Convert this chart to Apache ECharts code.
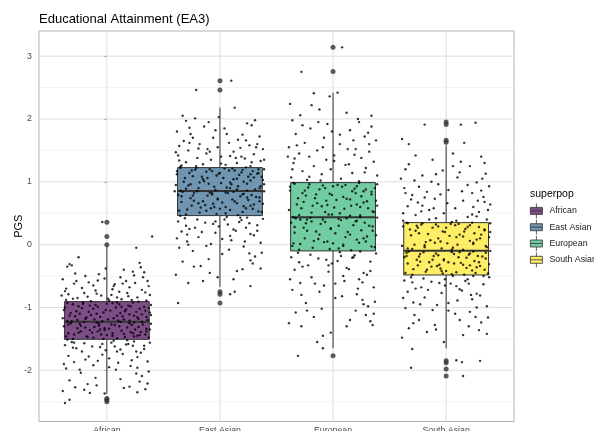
<!DOCTYPE html>
<html><head><meta charset="utf-8">
<script src="https://cdn.jsdelivr.net/npm/echarts@6/dist/echarts.min.js"></script>
<style>html,body{margin:0;padding:0;background:#fff}#c{width:594px;height:431px}</style>
</head><body><div id="c"></div>
<script>
const categories = ['African', 'East Asian', 'European', 'South Asian'];
const yTicks = [-2, -1, 0, 1, 2, 3];
const yMinor = [-2.5, -1.5, -0.5, 0.5, 1.5, 2.5];
// box statistics per group
const whiskerLow = [-2.377, -0.67, -1.65, -1.65];
const q1 = [-1.507, 0.462, -0.10, -0.483];
const median = [-1.226, 0.855, 0.436, -0.096];
const q3 = [-0.907, 1.226, 0.987, 0.35];
const whiskerHigh = [-0.04, 2.18, 2.42, 1.58];
const outliersAfrican = [0.357, 0.13, 0.0, -2.45, -2.50, -2.47];
const outliersEastAsian = [2.61, 2.46, -0.75, -0.79, -0.93];
const outliersEuropean = [3.14, 2.755, -1.77];
const outliersSouthAsian = [1.95, 1.91, 1.66, 1.63, -1.85, -1.88, -1.98, -2.09];
// jittered points: [horizontal jitter, value]
const pointsAfrican = [[-.33,-0.31],[-.35,-0.35],[-.31,-0.33],[.12,-0.52],[-.28,-0.46],[.36,-0.58],[.25,-0.61],[-.12,-0.65],[.05,-0.71],[-.37,-0.74],[.18,-0.77],[-.22,-0.69],[.31,-0.72],[-.05,-0.81],[.09,-0.84],[-.30,-0.86],[.38,-0.80],[.22,-0.88],[-.17,-0.83],[.02,-0.89],[-.39,-0.55],[.33,-0.44],[-.08,-0.57],[.15,-0.40],[-.25,-0.20],[.29,-0.29],[.40,0.13],[-.04,0.36],[.11,-0.75],[-.14,-0.90],[.27,-0.84],[-.34,-0.79],[.07,-0.63],[-.20,-0.77],[.35,-0.89],[-.02,-0.54],[.20,-0.68],[-.29,-0.62],[.13,-0.87],[-.10,-0.73],[.37,-0.66],[-.36,-0.88],[.24,-0.49],[-.16,-0.60],[.04,-0.80],[-.26,-0.85],[.30,-0.36],[-.07,-0.47],[.17,-0.58],[.26,-0.05],
[-.30,-0.95],[.21,-0.98],[-.12,-1.02],[.34,-1.05],[.05,-0.93],[-.24,-1.10],[.14,-1.14],[-.37,-1.00],[.28,-1.18],[-.03,-1.08],[.39,-0.96],[-.18,-1.16],[.10,-1.21],[-.33,-1.13],[.23,-0.92],[-.08,-0.99],[.31,-1.11],[-.27,-1.06],[.01,-1.19],[.17,-1.03],[-.21,-0.94],[.36,-1.20],[-.14,-1.12],[.08,-1.00],[-.39,-1.17],[.26,-1.07],[-.06,-1.15],[.19,-0.97],[-.31,-1.22],[.12,-1.09],[-.22,-1.01],[.33,-0.99],[-.01,-1.04],[.24,-1.13],[-.35,-0.93],[.06,-1.17],[-.16,-1.07],[.29,-1.02],[-.10,-0.96],[.15,-1.19],[-.28,-1.14],[.38,-1.08],[-.04,-1.22],[.20,-1.11],[-.19,-1.18],[.03,-1.05],[-.25,-0.98],[.35,-1.15],[-.09,-1.10],[.11,-0.95],
[-.32,-1.25],[.22,-1.28],[-.11,-1.31],[.35,-1.34],[.04,-1.27],[-.23,-1.38],[.15,-1.42],[-.38,-1.30],[.27,-1.45],[-.02,-1.36],[.39,-1.26],[-.17,-1.47],[.09,-1.49],[-.34,-1.41],[.24,-1.24],[-.07,-1.29],[.30,-1.39],[-.26,-1.33],[.00,-1.44],[.18,-1.32],[-.20,-1.23],[.37,-1.48],[-.13,-1.40],[.07,-1.28],[-.36,-1.46],[.25,-1.35],[-.05,-1.43],[.20,-1.25],[-.30,-1.50],[.13,-1.37],[-.23,-1.29],[.32,-1.27],[-.02,-1.33],[.23,-1.41],[-.35,-1.22],[.05,-1.45],[-.15,-1.36],[.28,-1.31],[-.09,-1.24],[.16,-1.47],[-.29,-1.43],[.38,-1.35],[-.03,-1.50],[.21,-1.39],[-.18,-1.46],[.02,-1.34],[-.24,-1.26],[.34,-1.43],[-.08,-1.38],[.12,-1.23],
[-.31,-1.55],[.19,-1.58],[-.13,-1.62],[.33,-1.66],[.06,-1.53],[-.22,-1.70],[.14,-1.74],[-.37,-1.60],[.27,-1.79],[-.01,-1.68],[.38,-1.56],[-.19,-1.83],[.10,-1.88],[-.34,-1.77],[.24,-1.54],[-.06,-1.63],[.30,-1.72],[-.27,-1.65],[.02,-1.81],[.17,-1.59],[-.20,-1.57],[.36,-1.86],[-.12,-1.92],[.08,-1.99],[-.36,-1.97],[.26,-2.05],[-.04,-1.75],[.21,-1.93],[-.29,-1.87],[.12,-1.67],[-.24,-1.99],[.31,-2.09],[-.10,-2.12],[.23,-1.61],[-.33,-2.16],[.04,-1.56],[-.17,-2.22],[.29,-2.18],[-.08,-1.85],[.15,-2.28],[-.39,-2.33],[.37,-2.02],[-.02,-2.37],[.20,-2.26],[-.37,-2.52],[-.33,-2.47],[.34,-2.30],[-.15,-2.36],[.27,-2.35],[-.20,-2.31],
[-.27,-0.58],[.06,-0.66],[.32,-0.52],[-.09,-0.78],[.19,-0.82],[-.36,-0.70],[.01,-0.86],[.28,-0.91],[-.21,-0.92],[.14,-0.62],[-.38,-1.04],[.27,-1.16],[-.15,-0.97],[.09,-1.13],[.37,-1.01],[-.26,-1.20],[.00,-0.94],[.16,-1.06],[-.32,-1.09],[.31,-1.23],[-.07,-1.26],[.24,-1.46],[-.19,-1.32],[.05,-1.41],[.35,-1.38],[-.34,-1.27],[.11,-1.30],[-.12,-1.48],[.29,-1.44],[-.25,-1.40],[.18,-1.52],[-.04,-1.58],[.33,-1.61],[-.30,-1.64],[.09,-1.70],[-.16,-1.78],[.22,-1.84],[-.38,-1.90],[.02,-1.95],[.27,-1.96],[-.23,-2.04],[.12,-2.14],[-.09,-2.24],[.36,-2.21],[-.28,-2.27],[.07,-1.62],[-.35,-1.51],[.39,-1.12],[-.11,-1.19],[.13,-0.99],[-.40,-0.81],[.34,-0.76],[-.19,-0.50],[.23,-0.43],[-.01,-0.38],[.09,-0.92],[-.06,-1.35],[.20,-1.21],[-.29,-1.56],[.26,-1.70]];
const pointsEastAsian = [[.10,2.61],[-.21,2.46],[-.33,2.05],[-.30,1.97],[-.22,2.01],[-.10,1.95],[.31,1.98],[.13,2.18],[-.14,1.88],[.28,1.90],[-.38,1.80],[.04,1.85],[-.26,1.76],[.20,1.75],[-.06,1.70],[.35,1.72],[-.32,1.65],[.16,1.67],[-.18,1.60],[.08,1.62],[-.36,1.57],[.26,1.58],[-.02,1.55],[.38,1.52],[-.28,1.50],[.12,1.48],[-.12,1.45],[.30,1.44],[-.37,1.42],[.01,1.40],[-.20,1.38],[.22,1.37],[-.08,1.35],[.36,1.33],[-.30,1.31],[.15,1.30],[-.15,1.28],[.05,1.27],[-.34,1.26],[.27,1.25],[-.24,1.70],[.18,1.54],[-.04,1.82],[.33,1.60],[-.39,1.47],[.09,1.41],[-.27,1.86],[.24,1.93],[-.11,1.52],[.39,1.35],
[-.35,1.22],[.20,1.19],[-.12,1.16],[.33,1.13],[.04,1.21],[-.24,1.09],[.15,1.05],[-.38,1.12],[.27,1.02],[-.03,1.10],[.39,1.20],[-.18,0.99],[.10,0.96],[-.31,1.06],[.23,1.23],[-.07,1.17],[.30,1.07],[-.27,1.14],[.01,0.98],[.17,1.11],[-.21,1.22],[.36,0.93],[-.14,1.01],[.08,1.18],[-.39,0.95],[.25,1.08],[-.05,0.92],[.19,1.15],[-.30,0.89],[.12,1.04],[-.22,1.19],[.34,1.14],[-.01,1.13],[.24,0.97],[-.35,1.24],[.06,0.91],[-.16,1.08],[.29,1.17],[-.09,1.20],[.15,0.88],[-.28,0.94],[.38,1.03],[-.04,0.87],[.21,1.00],[-.19,0.90],[.03,1.06],[-.25,1.18],[.35,0.90],[-.10,0.97],[.11,1.21],
[-.33,0.84],[.21,0.81],[-.11,0.78],[.35,0.75],[.05,0.83],[-.23,0.70],[.15,0.66],[-.37,0.79],[.27,0.62],[-.02,0.73],[.39,0.85],[-.17,0.59],[.09,0.55],[-.34,0.68],[.24,0.86],[-.07,0.80],[.30,0.64],[-.26,0.74],[.00,0.57],[.18,0.77],[-.20,0.85],[.37,0.52],[-.13,0.63],[.07,0.82],[-.36,0.54],[.25,0.71],[-.05,0.60],[.20,0.80],[-.30,0.48],[.13,0.69],[-.23,0.82],[.32,0.76],[-.02,0.72],[.23,0.58],[-.35,0.86],[.05,0.50],[-.15,0.69],[.28,0.79],[-.09,0.83],[.16,0.47],[-.29,0.56],[.38,0.65],[-.03,0.49],[.21,0.61],[-.18,0.51],[.02,0.67],[-.24,0.78],[.34,0.53],[-.08,0.58],[.12,0.84],
[-.31,0.42],[.19,0.39],[-.13,0.35],[.33,0.31],[.06,0.44],[-.22,0.27],[.14,0.22],[-.37,0.37],[.27,0.17],[-.01,0.29],[.38,0.41],[-.19,0.12],[.10,0.07],[-.34,0.21],[.24,0.43],[-.06,0.33],[.30,0.15],[-.27,0.25],[.02,0.09],[.17,0.36],[-.20,0.40],[.36,0.03],[-.12,-0.02],[.08,-0.08],[-.36,-0.05],[.26,-0.14],[-.04,0.19],[.21,-0.03],[-.29,0.05],[.12,0.24],[-.24,-0.10],[.31,-0.19],[-.10,-0.23],[.23,0.27],[-.33,-0.27],[.04,0.40],[-.17,-0.34],[.29,-0.30],[-.08,0.01],[.15,-0.42],[-.39,-0.48],[.37,-0.13],[-.02,-0.52],[.20,-0.39],[-.28,-0.61],[-.37,-0.93],[.13,-0.75],[-.15,-0.58],[.27,-0.66],[.09,-0.79],
[-.27,1.62],[.06,1.76],[.32,1.55],[-.09,1.48],[.19,1.40],[-.36,1.34],[.01,1.29],[.28,1.31],[-.21,1.25],[.14,1.38],[-.38,1.17],[.27,1.12],[-.15,1.04],[.09,0.99],[.37,1.08],[-.26,0.96],[.00,1.14],[.16,0.93],[-.32,1.00],[.31,0.88],[-.07,0.82],[.24,0.75],[-.19,0.66],[.05,0.60],[.35,0.69],[-.34,0.77],[.11,0.72],[-.12,0.54],[.29,0.57],[-.25,0.62],[.18,0.43],[-.04,0.37],[.33,0.22],[-.30,0.30],[.09,0.14],[-.16,0.20],[.22,0.05],[-.38,0.10],[.02,-0.15],[.27,-0.25],[-.23,-0.35],[.12,-0.55],[-.09,-0.45],[.36,-0.38],[-.28,0.00],[.07,0.32],[-.35,0.46],[.39,0.96],[-.11,1.06],[.13,1.18],[-.40,0.85],[.34,1.20],[-.19,1.53],[.23,1.66],[-.01,2.03],[.09,0.90],[-.06,0.65],[.20,0.52],[-.29,0.16],[.26,0.34]];
const pointsEuropean = [[.08,3.14],[-.28,2.75],[.04,2.42],[-.17,2.41],[-.38,2.24],[-.03,2.36],[-.12,2.15],[.12,2.10],[-.36,1.98],[-.29,2.06],[.22,2.00],[-.05,1.92],[.34,1.88],[-.20,1.85],[.15,1.82],[-.33,1.76],[.28,1.72],[-.08,1.70],[.38,1.66],[-.25,1.62],[.06,1.60],[-.39,1.55],[.20,1.52],[-.14,1.50],[.32,1.48],[-.30,1.45],[.01,1.42],[-.21,1.40],[.25,1.38],[-.06,1.35],[.36,1.32],[-.35,1.30],[.11,1.27],[-.17,1.25],[.29,1.22],[-.02,1.20],[-.27,1.17],[.17,1.14],[-.10,1.12],[.39,1.10],[-.37,1.07],[.07,1.05],[-.23,1.03],[.23,1.01],[-.32,1.58],[.31,1.78],[-.13,1.95],[.18,1.66],[-.01,1.80],[-.34,1.37],
[-.34,0.97],[.21,0.93],[-.12,0.88],[.34,0.84],[.04,0.95],[-.24,0.78],[.15,0.72],[-.38,0.86],[.27,0.67],[-.03,0.81],[.39,0.96],[-.18,0.62],[.10,0.57],[-.31,0.74],[.23,0.98],[-.07,0.90],[.30,0.69],[-.27,0.82],[.01,0.59],[.17,0.85],[-.21,0.96],[.36,0.52],[-.14,0.66],[.08,0.92],[-.39,0.55],[.25,0.77],[-.05,0.63],[.19,0.89],[-.30,0.47],[.12,0.73],[-.22,0.91],[.34,0.80],[-.01,0.79],[.24,0.60],[-.35,0.98],[.06,0.50],[-.16,0.74],[.29,0.88],[-.09,0.94],[.15,0.46],[-.28,0.58],[.38,0.70],[-.04,0.48],[.21,0.64],[-.19,0.51],[.03,0.71],[-.25,0.86],[.35,0.53],[-.10,0.61],[.11,0.95],
[-.33,0.42],[.21,0.38],[-.11,0.33],[.35,0.29],[.05,0.41],[-.23,0.22],[.15,0.16],[-.37,0.35],[.27,0.10],[-.02,0.26],[.39,0.43],[-.17,0.06],[.09,0.00],[-.34,0.19],[.24,0.44],[-.07,0.36],[.30,0.13],[-.26,0.27],[.00,0.02],[.18,0.31],[-.20,0.43],[.37,-0.04],[-.13,0.09],[.07,0.39],[-.36,-0.02],[.25,0.23],[-.05,0.05],[.20,0.37],[-.30,-0.08],[.13,0.20],[-.23,0.40],[.32,0.30],[-.02,0.25],[.23,0.03],[-.35,0.44],[.05,-0.06],[-.15,0.21],[.28,0.35],[-.09,0.40],[.16,-0.09],[-.29,0.01],[.38,0.15],[-.03,-0.07],[.21,0.08],[-.18,-0.05],[.02,0.18],[-.24,0.34],[.34,-0.03],[-.08,0.04],[.12,0.42],
[-.31,-0.13],[.19,-0.17],[-.13,-0.22],[.33,-0.27],[.06,-0.12],[-.22,-0.33],[.14,-0.39],[-.37,-0.20],[.27,-0.45],[-.01,-0.30],[.38,-0.14],[-.19,-0.52],[.10,-0.58],[-.34,-0.40],[.24,-0.11],[-.06,-0.24],[.30,-0.48],[-.27,-0.35],[.02,-0.62],[.17,-0.21],[-.20,-0.16],[.36,-0.68],[-.12,-0.75],[.08,-0.82],[-.36,-0.72],[.26,-0.88],[-.04,-0.43],[.21,-0.79],[-.29,-0.61],[.12,-0.37],[-.24,-0.93],[.31,-0.98],[-.10,-1.02],[.23,-0.55],[-.33,-1.08],[.04,-0.26],[-.17,-1.15],[.29,-1.12],[-.08,-0.65],[.15,-1.20],[-.39,-1.25],[.37,-0.91],[-.02,-1.40],[.20,-1.05],[-.28,-1.30],[.35,-1.28],[.33,-1.22],[-.14,-1.55],[-.09,-1.65],[-.31,-1.77],
[-.27,1.90],[.06,1.75],[.32,1.60],[-.09,1.55],[.19,1.43],[-.36,1.20],[.01,1.33],[.28,1.15],[-.21,1.08],[.14,1.28],[-.38,0.92],[.27,0.85],[-.15,0.80],[.09,0.76],[.37,0.90],[-.26,0.68],[.00,0.93],[.16,0.62],[-.32,0.64],[.31,0.58],[-.07,0.52],[.24,0.47],[-.19,0.37],[.05,0.30],[.35,0.22],[-.34,0.28],[.11,0.12],[-.12,0.16],[.29,0.05],[-.25,0.10],[.18,-0.20],[-.04,-0.33],[.33,-0.42],[-.30,-0.28],[.09,-0.50],[-.16,-0.62],[.22,-0.70],[-.38,-0.55],[.02,-0.85],[.27,-0.95],[-.23,-1.05],[.12,-1.30],[-.09,-1.45],[.36,-1.10],[-.28,-0.80],[.07,-0.18],[-.35,0.02],[.39,0.62],[-.11,1.02],[.13,1.52],[-.40,1.40],[.34,2.05],[-.19,2.22],[.23,1.95],[-.01,0.48],[.09,-0.02],[-.06,0.70],[.20,0.82],[-.29,0.40],[.26,-0.60]];
const pointsSouthAsian = [[-.19,1.91],[.13,1.91],[.26,1.94],[-.39,1.68],[-.33,1.60],[.16,1.62],[.06,1.45],[-.12,1.35],[-.33,1.28],[.31,1.40],[-.36,1.20],[.21,1.25],[-.03,1.18],[.35,1.13],[-.21,1.10],[.10,1.07],[-.28,1.02],[.27,0.99],[-.07,0.96],[.38,0.93],[-.37,0.90],[.02,0.87],[-.17,0.84],[.23,0.82],[-.30,0.79],[.33,0.76],[-.10,0.73],[.15,0.70],[-.25,0.67],[.39,0.64],[-.34,0.61],[.08,0.58],[-.15,0.55],[.29,0.52],[-.02,0.50],[-.27,0.47],[.19,0.44],[-.09,0.42],[.36,0.40],[-.38,0.38],[.05,0.36],[-.22,0.53],[.24,0.60],[-.31,0.72],[.31,0.86],[-.13,1.00],[.12,1.15],[-.05,0.80],[.34,1.30],[-.24,0.92],
[-.34,0.34],[.21,0.31],[-.12,0.27],[.34,0.23],[.04,0.33],[-.24,0.18],[.15,0.13],[-.38,0.29],[.27,0.08],[-.03,0.21],[.39,0.34],[-.18,0.04],[.10,0.00],[-.31,0.15],[.23,0.35],[-.07,0.29],[.30,0.10],[-.27,0.22],[.01,0.02],[.17,0.25],[-.21,0.34],[.36,-0.04],[-.14,0.07],[.08,0.31],[-.39,-0.02],[.25,0.18],[-.05,0.05],[.19,0.28],[-.30,-0.07],[.12,0.16],[-.22,0.32],[.34,0.24],[-.01,0.20],[.24,0.01],[-.35,0.35],[.06,-0.05],[-.16,0.17],[.29,0.28],[-.09,0.32],[.15,-0.08],[-.28,0.00],[.38,0.12],[-.04,-0.06],[.21,0.06],[-.19,-0.04],[.03,0.14],[-.25,0.27],[.35,-0.02],[-.10,0.03],[.11,0.33],
[-.33,-0.11],[.21,-0.14],[-.11,-0.18],[.35,-0.22],[.05,-0.12],[-.23,-0.27],[.15,-0.32],[-.37,-0.20],[.27,-0.36],[-.02,-0.25],[.39,-0.10],[-.17,-0.40],[.09,-0.44],[-.34,-0.30],[.24,-0.11],[-.07,-0.17],[.30,-0.34],[-.26,-0.24],[.00,-0.42],[.18,-0.21],[-.20,-0.12],[.37,-0.46],[-.13,-0.35],[.07,-0.15],[-.36,-0.45],[.25,-0.26],[-.05,-0.38],[.20,-0.16],[-.30,-0.48],[.13,-0.29],[-.23,-0.15],[.32,-0.19],[-.02,-0.23],[.23,-0.41],[-.35,-0.13],[.05,-0.47],[-.15,-0.28],[.28,-0.18],[-.09,-0.14],[.16,-0.48],[-.29,-0.39],[.38,-0.31],[-.03,-0.46],[.21,-0.33],[-.18,-0.43],[.02,-0.28],[-.24,-0.19],[.34,-0.40],[-.08,-0.34],[.12,-0.12],
[-.31,-0.52],[.19,-0.55],[-.13,-0.59],[.33,-0.63],[.06,-0.50],[-.22,-0.68],[.14,-0.73],[-.37,-0.57],[.27,-0.78],[-.01,-0.65],[.38,-0.52],[-.19,-0.84],[.10,-0.89],[-.34,-0.75],[.24,-0.50],[-.06,-0.61],[.30,-0.81],[-.27,-0.70],[.02,-0.93],[.17,-0.58],[-.20,-0.54],[.36,-0.98],[-.12,-1.04],[.08,-1.10],[-.36,-1.01],[.26,-1.15],[-.04,-0.77],[.21,-1.07],[-.29,-0.92],[.12,-0.71],[-.24,-1.20],[.31,-1.24],[-.10,-1.28],[.23,-0.87],[-.33,-1.33],[.04,-0.62],[-.17,-1.39],[.29,-1.36],[-.08,-0.96],[.15,-1.44],[-.39,-1.48],[.37,-1.16],[-.02,-1.55],[.20,-1.30],[-.30,-1.66],[-.31,-1.96],[.09,-1.84],[.14,-1.87],[.30,-1.85],[.15,-2.09],
[-.27,1.42],[.06,1.25],[.32,1.05],[-.09,1.12],[.19,0.95],[-.36,0.82],[.01,0.66],[.28,0.70],[-.21,0.62],[.14,0.85],[-.38,0.50],[.27,0.45],[-.15,0.40],[.09,0.38],[.37,0.55],[-.26,0.30],[.00,0.27],[.16,0.21],[-.32,0.24],[.31,0.16],[-.07,0.10],[.24,0.03],[-.19,-0.01],[.05,-0.08],[.35,-0.13],[-.34,-0.06],[.11,-0.20],[-.12,-0.24],[.29,-0.28],[-.25,-0.33],[.18,-0.37],[-.04,-0.42],[.33,-0.50],[-.30,-0.60],[.09,-0.66],[-.16,-0.72],[.22,-0.80],[-.38,-0.85],[.02,-1.05],[.27,-1.00],[-.23,-0.95],[.12,-1.20],[-.09,-1.35],[.36,-1.42],[-.28,-1.12],[.07,-0.30],[-.35,-0.18],[.39,0.20],[-.11,0.58],[.13,1.32],[-.40,1.05],[.34,0.68],[-.19,0.75],[.23,0.48],[-.01,-0.55],[.09,0.12],[-.06,-0.32],[.20,-0.62],[-.29,-1.25],[.26,-0.45]];

const fills = ['#7c4d87', '#6f95b0', '#71cda1', '#feee66'];
const X_MIN = -0.6, X_MAX = 3.6, Y_MIN = -2.815, Y_MAX = 3.40, BOX_HALF = 0.375;
const FONT = 'Liberation Sans, Arial, sans-serif';

const allPoints = [pointsAfrican, pointsEastAsian, pointsEuropean, pointsSouthAsian];
const allOutliers = [outliersAfrican, outliersEastAsian, outliersEuropean, outliersSouthAsian];
const jitterData = [];
allPoints.forEach((arr, g) => arr.forEach(p => jitterData.push([g + p[0], p[1]])));
const outlierData = [];
allOutliers.forEach((arr, g) => arr.forEach(v => outlierData.push([g, v])));

function gridLineSeries(values, horizontal, color, width) {
  return {
    type: 'custom', silent: true, z: 0,
    data: values.map(v => [v]),
    encode: { x: horizontal ? -1 : 0, y: horizontal ? 0 : -1 },
    renderItem: (params, api) => {
      const v = api.value(0);
      const a = horizontal ? api.coord([X_MIN, v]) : api.coord([v, Y_MIN]);
      const b = horizontal ? api.coord([X_MAX, v]) : api.coord([v, Y_MAX]);
      return { type: 'line', shape: { x1: a[0], y1: a[1], x2: b[0], y2: b[1] },
        style: { stroke: color, lineWidth: width } };
    }
  };
}

const boxSeries = categories.map((name, g) => ({
  name: name, type: 'custom', z: 2,
  itemStyle: { color: fills[g] },
  data: [[g, whiskerLow[g], q1[g], median[g], q3[g], whiskerHigh[g]]],
  encode: { x: 0, y: [1, 2, 3, 4, 5] },
  renderItem: (params, api) => {
    const x = api.value(0);
    const lo = api.coord([x, api.value(1)]);
    const b1 = api.coord([x - BOX_HALF, api.value(2)]);
    const m1 = api.coord([x - BOX_HALF, api.value(3)]);
    const m2 = api.coord([x + BOX_HALF, api.value(3)]);
    const t2 = api.coord([x + BOX_HALF, api.value(4)]);
    const hi = api.coord([x, api.value(5)]);
    const b0 = api.coord([x, api.value(2)]);
    const t0 = api.coord([x, api.value(4)]);
    const stroke = '#333333';
    return { type: 'group', children: [
      { type: 'line', shape: { x1: hi[0], y1: hi[1], x2: t0[0], y2: t0[1] }, style: { stroke, lineWidth: 1 } },
      { type: 'line', shape: { x1: lo[0], y1: lo[1], x2: b0[0], y2: b0[1] }, style: { stroke, lineWidth: 1 } },
      { type: 'rect', shape: { x: b1[0], y: t2[1], width: t2[0] - b1[0], height: b1[1] - t2[1] },
        style: { fill: fills[g], stroke, lineWidth: 1 } },
      { type: 'line', shape: { x1: m1[0], y1: m1[1], x2: m2[0], y2: m2[1] }, style: { stroke, lineWidth: 2 } }
    ] };
  }
}));

const chart = echarts.init(document.getElementById('c'), null, { renderer: 'canvas' });
chart.setOption({
  animation: false,
  backgroundColor: '#ffffff',
  title: [
    { text: 'Educational Attainment (EA3)', left: 39, top: 13, padding: 0,
      textStyle: { fontFamily: FONT, fontSize: 13, fontWeight: 'normal', color: '#000' } },
    { text: 'superpop', left: 530, top: 189, padding: 0,
      textStyle: { fontFamily: FONT, fontSize: 10.5, fontWeight: 'normal', color: '#000' } }
  ],
  legend: {
    data: categories, orient: 'vertical', left: 530, top: 203, padding: 0,
    itemWidth: 12, itemHeight: 15, itemGap: 0.5,
    icon: 'path://M6,0V4M0,4H12V11H0ZM0,7.5H12M6,11V15',
    itemStyle: { borderColor: '#333333', borderWidth: 0.8 },
    textStyle: { fontFamily: FONT, fontSize: 8.8, color: '#1a1a1a', padding: [0, 0, 0, 2] },
    selectedMode: false
  },
  grid: { left: 39, top: 31, right: 80, bottom: 9.5, outerBoundsMode: 'none', containLabel: false,
    show: true, borderColor: '#b3b3b3', borderWidth: 1, backgroundColor: 'transparent' },
  xAxis: {
    type: 'value', min: X_MIN, max: X_MAX,
    axisLine: { show: false }, splitLine: { show: false },
    axisTick: { show: true, length: 3, lineStyle: { color: '#b3b3b3' }, customValues: [0, 1, 2, 3] },
    axisLabel: { customValues: [0, 1, 2, 3], formatter: v => categories[Math.round(v)], margin: 5,
      fontFamily: FONT, fontSize: 8.8, color: '#4d4d4d' }
  },
  yAxis: {
    type: 'value', min: Y_MIN, max: Y_MAX,
    name: 'PGS', nameLocation: 'middle', nameRotate: 90, nameGap: 15, nameMoveOverlap: false,
    nameTextStyle: { fontFamily: FONT, fontSize: 11, color: '#000' },
    axisLine: { show: false }, splitLine: { show: false },
    axisTick: { show: true, length: 3, lineStyle: { color: '#b3b3b3' }, customValues: yTicks },
    axisLabel: { customValues: yTicks, margin: 7, fontFamily: FONT, fontSize: 8.8, color: '#4d4d4d' }
  },
  series: [
    gridLineSeries(yMinor, true, '#ececec', 0.6),
    gridLineSeries(yTicks, true, '#dedede', 1),
    gridLineSeries([0, 1, 2, 3], false, '#dedede', 1),
    ...boxSeries,
    { type: 'scatter', z: 3, silent: true, data: outlierData, symbolSize: 5, itemStyle: { color: '#333333' } },
    { type: 'scatter', z: 4, silent: true, data: jitterData, symbolSize: 2.4, itemStyle: { color: '#000000' } }
  ]
});
</script></body></html>
